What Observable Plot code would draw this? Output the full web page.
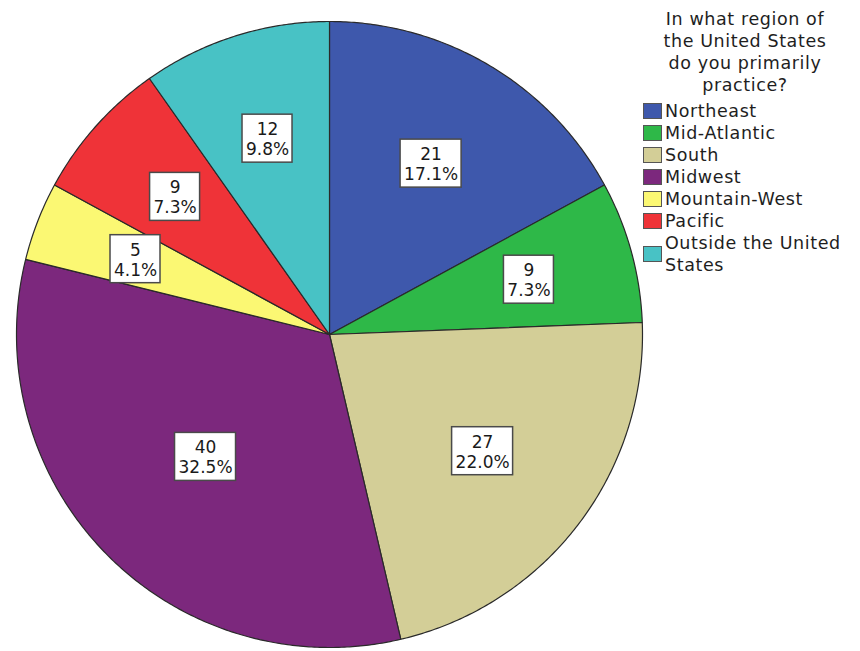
<!DOCTYPE html>
<html>
<head>
<meta charset="utf-8">
<script src="https://cdn.jsdelivr.net/npm/d3@7"></script>
<script src="https://cdn.jsdelivr.net/npm/@observablehq/plot@0.6"></script>
<style>
  body { margin: 0; background: #fff; font-family: "DejaVu Sans", sans-serif; }
  #wrap { position: relative; width: 860px; height: 651px; overflow: hidden; }
  #legend { position: absolute; left: 643px; top: 8px; width: 217px; color: #1e1e1e; font-size: 17.5px; letter-spacing: 0.6px; }
  #legend .title { width: 204px; text-align: center; line-height: 22px; margin-bottom: 4px; }
  #legend .item { display: flex; align-items: center; line-height: 23px; }
  #legend .sw { flex: 0 0 auto; width: 19px; height: 16px; border: 1px solid #555; margin-right: 3px; box-sizing: border-box; }
  #legend .lab { line-height: 22px; }
</style>
</head>
<body>
<div id="wrap"></div>
<script>
// ---- data ----
const regions = ["Northeast", "Mid-Atlantic", "South", "Midwest", "Mountain-West", "Pacific", "Outside the United States"];
const counts = [21, 9, 27, 40, 5, 9, 12];
const percents = ["17.1%", "7.3%", "22.0%", "32.5%", "4.1%", "7.3%", "9.8%"];
const colors = ["#3E58AC", "#2EB848", "#D3CE97", "#7C287D", "#FBF873", "#EF3338", "#48C2C5"];
const titleLines = ["In what region of", "the United States", "do you primarily", "practice?"];

// ---- geometry (derived from data) ----
const R_PX = 313;
const arcs = d3.pie().sort(null).value(d => d)(counts);
const slicePts = [];
arcs.forEach((a, i) => {
  const reg = regions[i];
  slicePts.push({region: reg, x: 0, y: 0});
  const n = Math.max(2, Math.ceil((a.endAngle - a.startAngle) / (Math.PI / 360)));
  for (let k = 0; k <= n; k++) {
    const t = a.startAngle + (a.endAngle - a.startAngle) * k / n;
    slicePts.push({region: reg, x: Math.sin(t), y: Math.cos(t)});
  }
  slicePts.push({region: reg, x: 0, y: 0});
});
const labels = arcs.map((a, i) => {
  const alpha = a.endAngle - a.startAngle;
  const mid = (a.startAngle + a.endAngle) / 2;
  const k = 4 * Math.sin(alpha / 2) / (3 * alpha); // sector centroid distance
  const txt = `${counts[i]}\n${percents[i]}`;
  const nChars = Math.max(String(counts[i]).length, percents[i].length);
  const hw = (11 * nChars + 6) / 2 / R_PX;
  const hh = 24 / R_PX;
  const x = k * Math.sin(mid), y = k * Math.cos(mid);
  return {region: regions[i], x, y, x1: x - hw, x2: x + hw, y1: y - hh, y2: y + hh, txt};
});

const chart = Plot.plot({
  width: 860,
  height: 651,
  marginLeft: 16,
  marginRight: 218,
  marginTop: 21,
  marginBottom: 4,
  x: {domain: [-1, 1], axis: null},
  y: {domain: [-1, 1], axis: null},
  color: {domain: regions, range: colors},
  style: {fontFamily: "DejaVu Sans, sans-serif", background: "#fff"},
  marks: [
    Plot.line(slicePts, {x: "x", y: "y", z: "region", fill: "region", stroke: "#2a2a2a", strokeWidth: 1.2, strokeLinejoin: "round"}),
    Plot.rect(labels, {x1: "x1", x2: "x2", y1: "y1", y2: "y2", fill: "#fff", stroke: "#4a4a4a", strokeWidth: 1.5}),
    Plot.text(labels, {x: "x", y: "y", text: "txt", fontSize: 17, fill: "#1a1a1a", lineHeight: 1.18, lineAnchor: "middle"})
  ]
});

const wrap = document.getElementById("wrap");
wrap.appendChild(chart);

// ---- legend ----
const legend = document.createElement("div");
legend.id = "legend";
const title = document.createElement("div");
title.className = "title";
titleLines.forEach(t => { const d = document.createElement("div"); d.textContent = t; title.appendChild(d); });
legend.appendChild(title);
regions.forEach((r, i) => {
  const it = document.createElement("div");
  it.className = "item";
  const sw = document.createElement("span");
  sw.className = "sw";
  sw.style.background = colors[i];
  const lab = document.createElement("span");
  lab.className = "lab";
  lab.textContent = r;
  it.appendChild(sw);
  it.appendChild(lab);
  legend.appendChild(it);
});
wrap.appendChild(legend);
</script>
</body>
</html>
